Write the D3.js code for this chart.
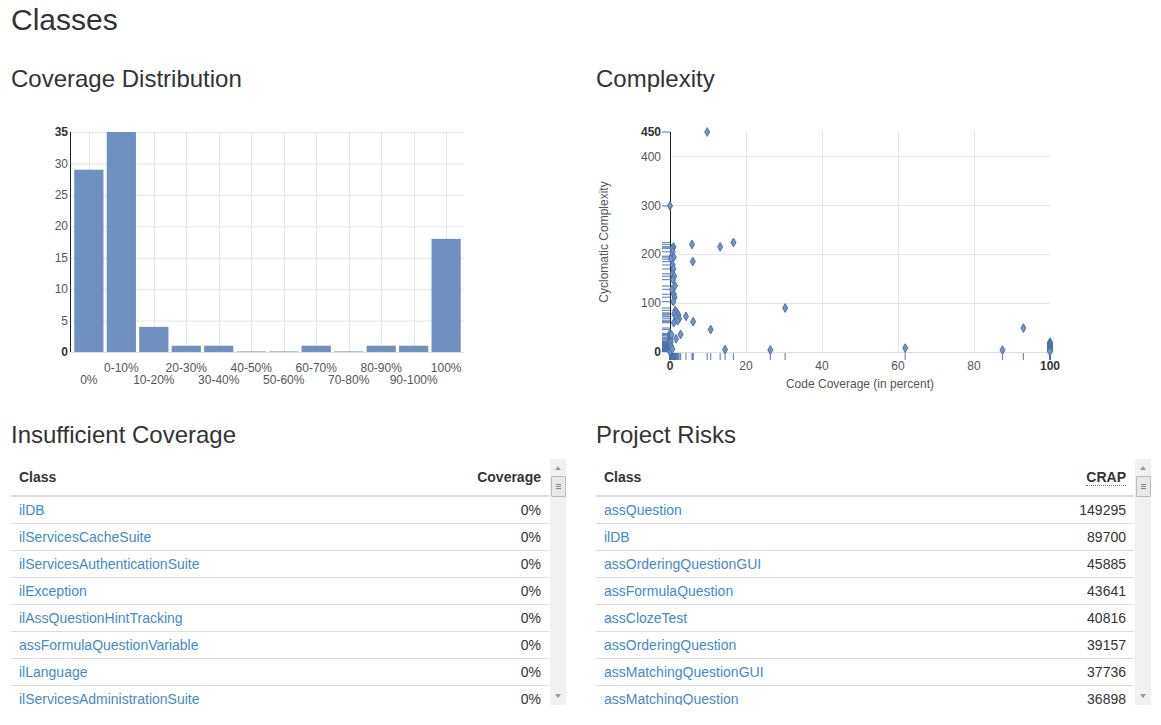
<!DOCTYPE html>
<html><head><meta charset="utf-8">
<script src="https://cdn.jsdelivr.net/npm/d3@7"></script>
<style>
html,body{margin:0;padding:0;background:#fff}
body{width:1161px;height:725px;overflow:hidden;position:relative;font-family:"Liberation Sans",Arial,Helvetica,sans-serif;color:#333}
#charts{position:absolute;left:0;top:0}
.tbl{position:absolute;top:459px;height:246px;width:555px;overflow:hidden}
.tbl table{border-collapse:collapse;width:538px;font-size:14px;position:absolute;left:0;top:0}
.tbl th{height:36px;padding:0 8px;font-weight:bold;text-align:left;border-bottom:2px solid #ddd;color:#333}
.tbl th.r,.tbl td.r{text-align:right}
.tbl td{height:26px;padding:0 8px;border-bottom:1px solid #ddd;color:#333}
.tbl td a{color:#428bca;text-decoration:none}
abbr{text-decoration:none;border-bottom:1px dotted #777}
.sb{position:absolute;left:539px;top:0;width:16px;height:246px;background:#f1f1f1}
.sb .th{position:absolute;left:1px;top:17px;width:13px;height:19px;background:#e8e8e8;border:1px solid #bbb;border-radius:1px}
.sb .th i{position:absolute;left:4px;width:5px;height:1px;background:#888}
.sb .up,.sb .dn{position:absolute;left:5px;width:0;height:0;border-left:3px solid transparent;border-right:3px solid transparent}
.sb .up{top:7px;border-bottom:4px solid #999}
.sb .dn{bottom:7px;border-top:4px solid #999}
</style>
</head><body>
<svg id="charts" width="1161" height="725"></svg>
<div class="tbl" id="t1" style="left:11px"></div>
<div class="tbl" id="t2" style="left:596px"></div>
<script>
// ---------- data ----------
const binLabels = ["0%","0-10%","10-20%","20-30%","30-40%","40-50%","50-60%","60-70%","70-80%","80-90%","90-100%","100%"];
const binCounts = [29,35,4,1,1,0,0,1,0,1,1,18];
const barYTicks = [0,5,10,15,20,25,30,35];

const coverage = [
  0,0,0,0,0,0,0,0,0,0,0,0,0,0,0,0,0,0,0,0,0,0,0,0,0,0,0,0,0,
  9.8,5.8,6.0,4.2,6.1,2.8,1.6,
  0.9,0.6,0.7,0.4,1.0,0.3,0.7,0.9,0.6,1.1,0.8,1.3,0.5,1.0,1.2,0.9,1.4,1.8,1.1,2.2,1.6,2.4,2.0,1.0,0.4,0.2,0.3,0.6,
  10.7,13.2,14.5,16.7,
  26.4,30.3,61.9,87.5,93.0,
  100,100,100,100,100,100,100,100,100,100,100,100,100,100,100,100,100,100
];
const complexity = [
  299,38,33,30,27,24,22,20,18,16,15,14,12,11,10,9,8,8,7,6,5,5,4,3,3,2,2,1,1,
  450,220,185,73,62,36,27,
  215,212,205,196,194,190,178,170,160,155,148,135,128,118,112,103,85,80,78,76,72,68,64,60,35,20,12,6,
  46,215,5,224,
  4,90,8,4,49,
  20,18,16,15,14,12,11,10,9,8,7,6,5,4,3,2,2,1
];
const scatterXTicks = [0,20,40,60,80,100];
const scatterYTicks = [0,100,200,300,400,450];

const lowCovClasses = ["ilDB","ilServicesCacheSuite","ilServicesAuthenticationSuite","ilException","ilAssQuestionHintTracking","assFormulaQuestionVariable","ilLanguage","ilServicesAdministrationSuite"];
const lowCovValues = ["0%","0%","0%","0%","0%","0%","0%","0%"];
const riskClasses = ["assQuestion","ilDB","assOrderingQuestionGUI","assFormulaQuestion","assClozeTest","assOrderingQuestion","assMatchingQuestionGUI","assMatchingQuestion"];
const riskValues = [149295,89700,45885,43641,40816,39157,37736,36898];

// ---------- page ----------
const svg = d3.select("#charts");
const FONT = '"Liberation Sans",Arial,sans-serif';
svg.append("text").attr("x",11).attr("y",30).attr("font-size",30).attr("fill","#333").attr("font-family",FONT).text("Classes");
[["Coverage Distribution",11,87],["Complexity",596,87],["Insufficient Coverage",11,443],["Project Risks",596,443]].forEach(h=>{
  svg.append("text").attr("x",h[1]).attr("y",h[2]).attr("font-size",24).attr("fill","#333").attr("font-family",FONT).text(h[0]);
});

const GRID="#e5e5e5", TICK="#555";

// ---------- bar chart ----------
{
  const g = svg.append("g").attr("font-family",FONT).attr("font-size",12);
  const x = d3.scaleBand().domain(binLabels).range([71,464]).padding(0.1);
  const y = d3.scaleLinear().domain([0,35]).range([352,132]);
  g.selectAll(".hg").data(barYTicks.filter(t=>t>0)).enter().append("line")
    .attr("x1",71).attr("x2",464).attr("y1",d=>y(d)+0.5).attr("y2",d=>y(d)+0.5).attr("stroke",GRID);
  g.selectAll(".vg").data(binLabels).enter().append("line")
    .attr("x1",d=>Math.round(x(d)+x.bandwidth()/2)+0.5).attr("x2",d=>Math.round(x(d)+x.bandwidth()/2)+0.5)
    .attr("y1",132).attr("y2",352).attr("stroke",GRID);
  g.append("line").attr("x1",71).attr("x2",464).attr("y1",352.5).attr("y2",352.5).attr("stroke","#ddd");
  g.selectAll(".bar").data(binLabels).enter().append("rect")
    .attr("x",d=>x(d)).attr("width",x.bandwidth())
    .attr("y",(d,i)=>Math.min(y(binCounts[i]),y(0)-1))
    .attr("height",(d,i)=>Math.max(1,y(0)-y(binCounts[i])))
    .attr("fill","#6489bd").attr("fill-opacity",(d,i)=>binCounts[i]===0?0.5:0.93);
  g.append("line").attr("x1",70.5).attr("x2",70.5).attr("y1",132).attr("y2",352).attr("stroke","#222");
  g.selectAll(".yl").data(barYTicks).enter().append("text")
    .attr("x",68).attr("y",d=>y(d)).attr("dy","0.35em").attr("text-anchor","end")
    .attr("font-weight",d=>(d===0||d===35)?"bold":"normal")
    .attr("fill",d=>(d===0||d===35)?"#333":TICK).text(d=>d);
  g.selectAll(".xl").data(binLabels).enter().append("text")
    .attr("x",d=>x(d)+x.bandwidth()/2).attr("y",(d,i)=>i%2===0?384:372)
    .attr("text-anchor","middle").attr("fill",TICK).text(d=>d);
}

// ---------- scatter ----------
{
  const g = svg.append("g").attr("font-family",FONT).attr("font-size",12);
  const x = d3.scaleLinear().domain([0,100]).range([670,1050]);
  const y = d3.scaleLinear().domain([0,450]).range([352,132]);
  g.selectAll(".hg").data([100,200,300,400]).enter().append("line")
    .attr("x1",670).attr("x2",1050).attr("y1",d=>Math.round(y(d))+0.5).attr("y2",d=>Math.round(y(d))+0.5).attr("stroke",GRID);
  g.selectAll(".vg").data([20,40,60,80]).enter().append("line")
    .attr("x1",d=>Math.round(x(d))+0.5).attr("x2",d=>Math.round(x(d))+0.5).attr("y1",132).attr("y2",352).attr("stroke",GRID);
  g.append("line").attr("x1",670).attr("x2",1050).attr("y1",352.5).attr("y2",352.5).attr("stroke","#ddd");
  const pts = coverage.map((c,i)=>({c:c,v:complexity[i]}));
  g.selectAll(".rx").data(pts).enter().append("line")
    .attr("x1",d=>x(d.c)).attr("x2",d=>x(d.c)).attr("y1",353).attr("y2",360)
    .attr("stroke","#4c72ac").attr("stroke-width",1.2).attr("stroke-opacity",0.8);
  g.selectAll(".ry").data(pts).enter().append("line")
    .attr("x1",662).attr("x2",670).attr("y1",d=>y(d.v)).attr("y2",d=>y(d.v))
    .attr("stroke","#4c72ac").attr("stroke-width",1.2).attr("stroke-opacity",0.8);
  g.append("line").attr("x1",670.5).attr("x2",670.5).attr("y1",132).attr("y2",352).attr("stroke","#222");
  const sym = d3.symbol().type(d3.symbolDiamond).size(22);
  g.selectAll(".pt").data(pts).enter().append("path")
    .attr("transform",d=>`translate(${x(d.c)},${y(d.v)})`).attr("d",sym)
    .attr("fill","#7393c2").attr("stroke","#4c72ac").attr("stroke-width",1);
  g.selectAll(".yl").data(scatterYTicks).enter().append("text")
    .attr("x",661).attr("y",d=>y(d)).attr("dy","0.35em").attr("text-anchor","end")
    .attr("font-weight",d=>(d===0||d===450)?"bold":"normal")
    .attr("fill",d=>(d===0||d===450)?"#333":TICK).text(d=>d);
  g.selectAll(".xl").data(scatterXTicks).enter().append("text")
    .attr("x",d=>x(d)).attr("y",370).attr("text-anchor","middle")
    .attr("font-weight",d=>(d===0||d===100)?"bold":"normal")
    .attr("fill",d=>(d===0||d===100)?"#333":TICK).text(d=>d);
  g.append("text").attr("x",860).attr("y",388).attr("text-anchor","middle").attr("fill",TICK).text("Code Coverage (in percent)");
  g.append("text").attr("transform","translate(608,242) rotate(-90)").attr("text-anchor","middle").attr("fill",TICK).text("Cyclomatic Complexity");
}

// ---------- tables ----------
function buildTable(sel, headRight, names, vals, abbrHead){
  const wrap = d3.select(sel);
  const t = wrap.append("table");
  const hr = t.append("thead").append("tr");
  hr.append("th").text("Class");
  const h2 = hr.append("th").attr("class","r");
  if(abbrHead) h2.append("abbr").text(headRight); else h2.text(headRight);
  const rows = t.append("tbody").selectAll("tr").data(names).enter().append("tr");
  rows.append("td").append("a").attr("href","#").text(d=>d);
  rows.append("td").attr("class","r").text((d,i)=>vals[i]);
  const sb = wrap.append("div").attr("class","sb");
  sb.append("div").attr("class","up");
  const th = sb.append("div").attr("class","th");
  [7,9,11].forEach(v=>th.append("i").style("top",v+"px"));
  sb.append("div").attr("class","dn");
}
buildTable("#t1","Coverage",lowCovClasses,lowCovValues,false);
buildTable("#t2","CRAP",riskClasses,riskValues,true);
</script>
</body></html>
